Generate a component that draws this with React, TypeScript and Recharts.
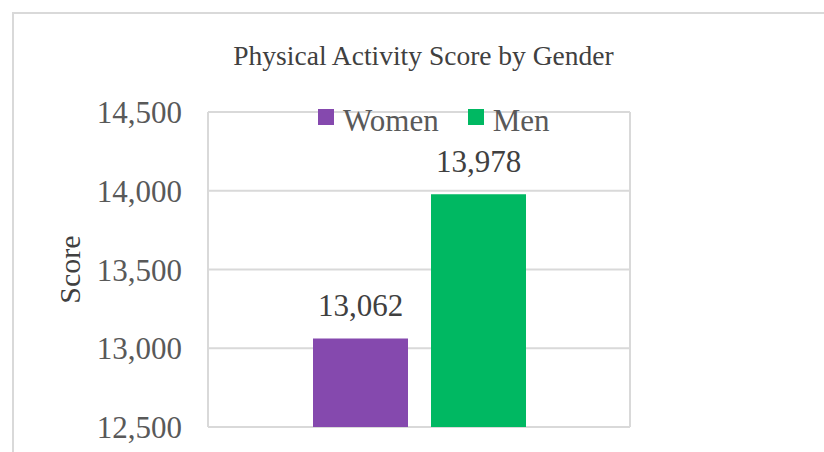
import { BarChart, Bar, XAxis, YAxis, CartesianGrid, LabelList, Label } from 'recharts';

const categories = [''];
const seriesNames = ['Women', 'Men'];
const women = [13062];
const men = [13978];
const yTicks = [12500, 13000, 13500, 14000, 14500];

const COLORS = ['#8549AE', '#00B862'];
const FONT = '"Liberation Serif", "Times New Roman", serif';

const data = categories.map((name, i) => ({ name, Women: women[i], Men: men[i] }));

const fmt = (v: number) => v.toLocaleString('en-US');

function App() {
  return (
    <div style={{ position: 'absolute', left: 0, top: 0, width: 824, height: 452, overflow: 'hidden', background: '#fff', fontFamily: FONT }}>
      {/* chart frame, runs off the right and bottom edges */}
      <div style={{ position: 'absolute', left: 12, top: 12, width: 900, height: 600, border: '2px solid #d9d9d9' }} />

      <div style={{ position: 'absolute', left: 0, width: 847, top: 40, textAlign: 'center', fontSize: 27.5, color: '#404040' }}>
        Physical Activity Score by Gender
      </div>

      <div style={{ position: 'absolute' }}>
        <BarChart width={824} height={452} data={data} margin={{ top: 112, right: 194, bottom: 25, left: 0 }} barSize={95} barGap={23}>
          <CartesianGrid
            stroke="#d9d9d9"
            strokeWidth={2}
            verticalCoordinatesGenerator={({ offset }: any) => [offset.left, offset.left + offset.width]}
          />
          <XAxis dataKey="name" hide />
          <YAxis
            width={208}
            domain={[12500, 14500]}
            ticks={yTicks}
            tickFormatter={fmt}
            axisLine={false}
            tickLine={false}
            tickSize={0}
            tickMargin={26}
            tick={{ fontSize: 31, fill: '#595959', fontFamily: FONT }}
          >
            <Label
              content={({ viewBox }: any) => {
                const cx = 69;
                const cy = viewBox.y + viewBox.height / 2;
                return (
                  <text x={cx} y={cy} transform={`rotate(-90 ${cx} ${cy})`} textAnchor="middle" dominantBaseline="central" fontSize={30} fill="#404040" fontFamily={FONT}>
                    Score
                  </text>
                );
              }}
            />
          </YAxis>
          {seriesNames.map((s, i) => (
            <Bar key={s} dataKey={s} fill={COLORS[i]} isAnimationActive={false}>
              <LabelList dataKey={s} position="top" offset={22} formatter={(v: any) => fmt(Number(v))} fontSize={31} fill="#404040" fontFamily={FONT} />
            </Bar>
          ))}
        </BarChart>
      </div>

      <div style={{ position: 'absolute', left: 318, top: 104, display: 'flex', alignItems: 'center', fontSize: 31, color: '#595959', lineHeight: '34px' }}>
        {seriesNames.map((s, i) => (
          <div key={s} style={{ display: 'flex', alignItems: 'center', marginRight: 29 }}>
            <span style={{ display: 'inline-block', width: 16, height: 16, background: COLORS[i], marginRight: 9, marginTop: -8 }} />
            <span>{s}</span>
          </div>
        ))}
      </div>
    </div>
  );
}

export default App;
